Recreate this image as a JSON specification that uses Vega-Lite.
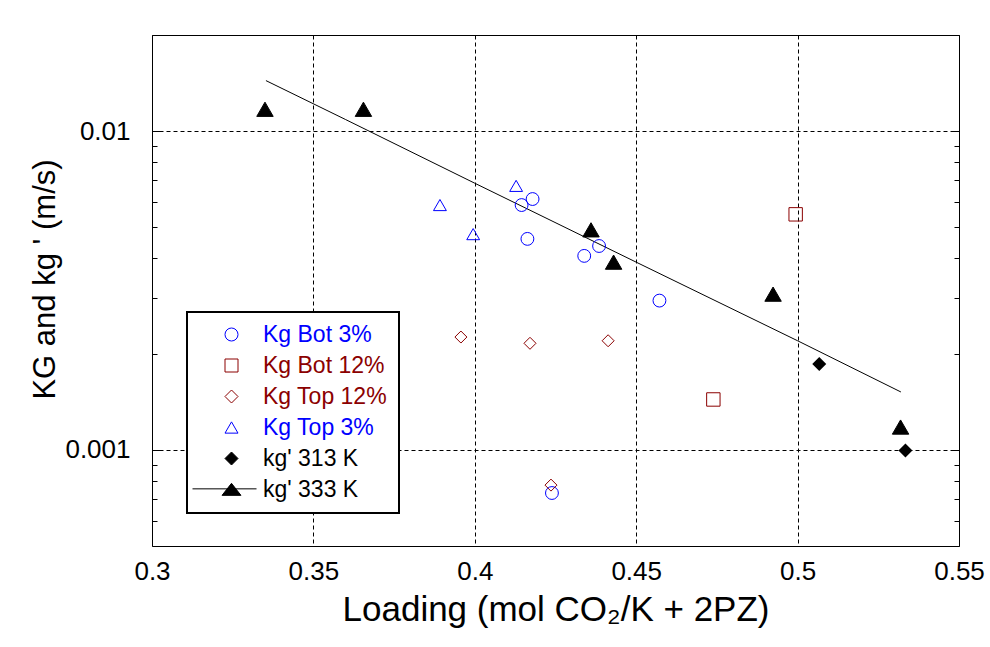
{
  "$schema": "https://vega.github.io/schema/vega-lite/v6.json",
  "width": 807,
  "height": 511,
  "autosize": {"type": "none"},
  "padding": {"left": 152, "top": 35, "right": 31, "bottom": 101},
  "background": "white",
  "config": {
    "view": {"stroke": "black", "strokeWidth": 1},
    "font": "Liberation Sans",
    "axis": {"labelFont": "Liberation Sans", "titleFont": "Liberation Sans", "labelColor": "black", "titleColor": "black", "titleFontWeight": "normal", "labelFlush": false, "labelOverlap": false, "labelBound": false},
    "legend": {
      "orient": "none",
      "padding": 11,
      "symbolSize": 169, "symbolOffset": 22,
      "labelFont": "Liberation Sans", "labelFontSize": 23, "labelOffset": 20,
      "rowPadding": 7,
      "strokeWidth": 2
    }
  },
  "datasets": {
    "pts": [
      {"series": "Kg Bot 3%", "loading": 0.4145, "k": 0.00586},
      {"series": "Kg Bot 3%", "loading": 0.4179, "k": 0.00612},
      {"series": "Kg Bot 3%", "loading": 0.4163, "k": 0.00459},
      {"series": "Kg Bot 3%", "loading": 0.4385, "k": 0.00436},
      {"series": "Kg Bot 3%", "loading": 0.4339, "k": 0.00406},
      {"series": "Kg Bot 3%", "loading": 0.4572, "k": 0.00294},
      {"series": "Kg Bot 3%", "loading": 0.4239, "k": 0.000733},
      {"series": "Kg Bot 12%", "loading": 0.4994, "k": 0.00548},
      {"series": "Kg Bot 12%", "loading": 0.4739, "k": 0.00144},
      {"series": "Kg Top 12%", "loading": 0.3957, "k": 0.00226},
      {"series": "Kg Top 12%", "loading": 0.4171, "k": 0.00216},
      {"series": "Kg Top 12%", "loading": 0.4413, "k": 0.0022},
      {"series": "Kg Top 12%", "loading": 0.4236, "k": 0.000776},
      {"series": "Kg Top 3%", "loading": 0.4128, "k": 0.00673},
      {"series": "Kg Top 3%", "loading": 0.3892, "k": 0.00586},
      {"series": "Kg Top 3%", "loading": 0.3995, "k": 0.00475},
      {"series": "kg' 313 K", "loading": 0.5067, "k": 0.00186},
      {"series": "kg' 313 K", "loading": 0.5334, "k": 0.000996},
      {"series": "kg' 333 K", "loading": 0.335, "k": 0.0117},
      {"series": "kg' 333 K", "loading": 0.3655, "k": 0.0117},
      {"series": "kg' 333 K", "loading": 0.436, "k": 0.0049},
      {"series": "kg' 333 K", "loading": 0.443, "k": 0.00388},
      {"series": "kg' 333 K", "loading": 0.4924, "k": 0.00308},
      {"series": "kg' 333 K", "loading": 0.5319, "k": 0.00118}
    ],
    "fit": [
      {"loading": 0.3353, "k": 0.01439},
      {"loading": 0.36, "k": 0.01086},
      {"loading": 0.4, "k": 0.00686},
      {"loading": 0.45, "k": 0.00388},
      {"loading": 0.5, "k": 0.0022},
      {"loading": 0.532, "k": 0.00152}
    ]
  },
  "layer": [
    {
      "data": {"name": "fit"},
      "mark": {"type": "line", "color": "black", "strokeWidth": 1},
      "encoding": {
        "x": {
          "field": "loading", "type": "quantitative",
          "scale": {"domain": [0.3, 0.55], "nice": false, "zero": false},
          "axis": {
            "values": [0.3, 0.35, 0.4, 0.45, 0.5, 0.55],
            "format": "~g",
            "grid": true, "gridColor": "black", "gridDash": [4, 3], "gridWidth": 1,
            "ticks": false, "domain": false,
            "labelFontSize": 26, "labelPadding": 12,
            "title": "Loading (mol CO₂/K + 2PZ)", "titleFontSize": 35,
            "titleY": 74, "titleBaseline": "alphabetic"
          }
        },
        "y": {
          "field": "k", "type": "quantitative",
          "scale": {"type": "log", "domain": [0.0005, 0.02], "nice": false},
          "axis": {
            "orient": "left",
            "values": [0.001, 0.01],
            "labelExpr": "datum.value < 0.005 ? '0.001' : '0.01'",
            "grid": true, "gridColor": "black", "gridDash": [4, 3], "gridWidth": 1,
            "ticks": false, "domain": false,
            "labelFontSize": 26, "labelPadding": 22,
            "title": "KG and kg ' (m/s)", "titleFontSize": 31,
            "titleAngle": 270, "titleX": -107, "titleY": 244,
            "titleBaseline": "middle", "titleAlign": "center"
          }
        }
      }
    },
    {
      "data": {"name": "pts"},
      "transform": [{"filter": "datum.series === 'Kg Bot 3%'"}],
      "mark": {"type": "point", "shape": "circle", "filled": false, "color": "#0000ff", "size": 165, "strokeWidth": 1, "opacity": 1},
      "encoding": {
        "x": {"field": "loading", "type": "quantitative"},
        "y": {
          "field": "k", "type": "quantitative",
          "axis": {
            "orient": "left",
            "values": [0.0005, 0.0006, 0.0007, 0.0008, 0.0009, 0.001, 0.002, 0.003, 0.004, 0.005, 0.006, 0.007, 0.008, 0.009, 0.01, 0.02],
            "labels": false, "grid": false, "domain": false, "title": null,
            "ticks": true, "tickColor": "black", "tickWidth": 1,
            "tickSize": {"condition": {"test": "datum.value == 0.001 || datum.value == 0.01", "value": -8}, "value": -5}
          }
        }
      }
    },
    {
      "data": {"name": "pts"},
      "transform": [{"filter": "datum.series === 'Kg Bot 12%'"}],
      "mark": {"type": "point", "shape": "square", "filled": false, "color": "#8b0000", "size": 180, "strokeWidth": 1, "opacity": 1},
      "encoding": {
        "x": {"field": "loading", "type": "quantitative"},
        "y": {
          "field": "k", "type": "quantitative",
          "axis": {
            "orient": "right",
            "values": [0.0005, 0.0006, 0.0007, 0.0008, 0.0009, 0.001, 0.002, 0.003, 0.004, 0.005, 0.006, 0.007, 0.008, 0.009, 0.01, 0.02],
            "labels": false, "grid": false, "domain": false, "title": null,
            "ticks": true, "tickColor": "black", "tickWidth": 1,
            "tickSize": {"condition": {"test": "datum.value == 0.001 || datum.value == 0.01", "value": -8}, "value": -5}
          }
        }
      }
    },
    {
      "data": {"name": "pts"},
      "transform": [{"filter": "datum.series === 'Kg Top 12%'"}],
      "mark": {"type": "point", "shape": "diamond", "filled": false, "color": "#8b0000", "size": 144, "strokeWidth": 1, "opacity": 1},
      "encoding": {
        "x": {"field": "loading", "type": "quantitative"},
        "y": {"field": "k", "type": "quantitative", "axis": null}
      }
    },
    {
      "data": {"name": "pts"},
      "transform": [{"filter": "datum.series === 'Kg Top 3%'"}],
      "mark": {"type": "point", "shape": "triangle-up", "filled": false, "color": "#0000ff", "size": 165, "strokeWidth": 1, "opacity": 1},
      "encoding": {
        "x": {"field": "loading", "type": "quantitative"},
        "y": {"field": "k", "type": "quantitative", "axis": null}
      }
    },
    {
      "data": {"name": "pts"},
      "transform": [{"filter": "datum.series === \"kg' 313 K\""}],
      "mark": {"type": "point", "shape": "diamond", "filled": true, "color": "black", "size": 196, "strokeWidth": 0, "opacity": 1},
      "encoding": {
        "x": {"field": "loading", "type": "quantitative"},
        "y": {"field": "k", "type": "quantitative", "axis": null}
      }
    },
    {
      "data": {"name": "pts"},
      "transform": [{"filter": "datum.series === \"kg' 333 K\""}],
      "mark": {
        "type": "point", "shape": "triangle-up", "size": 270, "strokeWidth": 1,
        "fill": {"expr": "indexof([\"kg' 313 K\", \"kg' 333 K\"], datum.series || datum.value) >= 0 ? 'black' : 'transparent'"},
        "stroke": {"expr": "indexof(['Kg Bot 3%', 'Kg Top 3%'], datum.series || datum.value) >= 0 ? '#0000ff' : indexof(['Kg Bot 12%', 'Kg Top 12%'], datum.series || datum.value) >= 0 ? '#8b0000' : 'black'"}
      },
      "encoding": {
        "x": {"field": "loading", "type": "quantitative"},
        "y": {"field": "k", "type": "quantitative", "axis": null},
        "opacity": {
          "field": "series", "type": "ordinal",
          "scale": {
            "domain": ["Kg Bot 3%", "Kg Bot 12%", "Kg Top 12%", "Kg Top 3%", "kg' 313 K", "kg' 333 K"],
            "range": [1, 1, 1, 1, 1, 1]
          },
          "legend": {
            "title": null,
            "legendX": 35, "legendY": 277,
            "fillColor": "white", "strokeColor": "black",
            "labelColor": {"expr": "indexof(['Kg Bot 3%', 'Kg Top 3%'], datum.value) >= 0 ? '#0000ff' : indexof(['Kg Bot 12%', 'Kg Top 12%'], datum.value) >= 0 ? '#8b0000' : 'black'"},
            "symbolType": {"expr": "datum.value === \"kg' 333 K\" ? 'M-6,-0.1L3.85,-0.1M0,-0.95L-1.45,0.9L1.45,0.9Z' : datum.value === 'Kg Bot 3%' ? 'circle' : datum.value === 'Kg Bot 12%' ? 'square' : datum.value === 'Kg Top 3%' ? 'triangle-up' : 'diamond'"},
            "symbolStrokeWidth": 1
          }
        }
      }
    }
  ],
  "resolve": {"axis": {"y": "independent"}}
}
